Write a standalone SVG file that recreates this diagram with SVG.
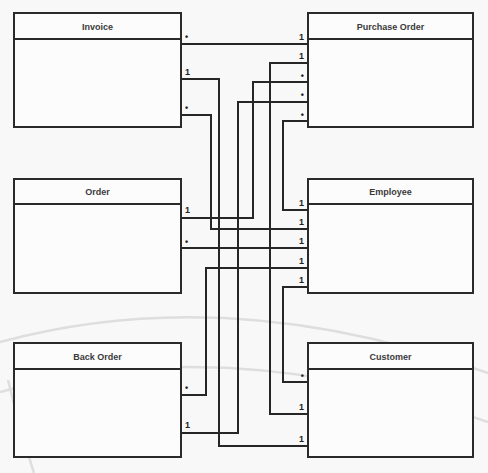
<svg xmlns="http://www.w3.org/2000/svg" width="488" height="473" viewBox="0 0 488 473">
<style>
.bg{fill:#f8f8f8}
.arc{fill:none;stroke:#dedede;stroke-width:2.5}
.box{fill:#fcfcfc;stroke:#2a2a2a;stroke-width:2}
.hdr{stroke:#2a2a2a;stroke-width:2}
.title{font-family:"Liberation Sans",Arial,sans-serif;font-size:9px;font-weight:bold;fill:#3a3a3a;text-anchor:middle}
.conn{fill:none;stroke:#262626;stroke-width:2}
.lbl{font-family:"Liberation Sans",Arial,sans-serif;font-size:9px;font-weight:bold;fill:#222}
.r{text-anchor:end}
</style>
<rect class="bg" x="0" y="0" width="488" height="473"/>
<g id="background-arcs">
<path class="arc" d="M0,342 Q230,280 488,373"/>
<path class="arc" d="M0,392 Q230,330 488,422"/>
<path class="arc" d="M8,380 Q20,430 34,473"/>
</g>
<g id="connectors">
<path class="conn" d="M181,44 H308"/>
<path class="conn" d="M181,79 H219 V446 H308"/>
<path class="conn" d="M181,115 H211 V229 H308"/>
<path class="conn" d="M308,63 H270 V414 H308"/>
<path class="conn" d="M308,82 H253 V218 H181"/>
<path class="conn" d="M308,102 H238 V433 H181"/>
<path class="conn" d="M308,121 H283 V210 H308"/>
<path class="conn" d="M181,248 H308"/>
<path class="conn" d="M181,395 H206 V268 H308"/>
<path class="conn" d="M308,287 H283 V382 H308"/>
</g>
<g id="invoice">
<rect class="box" x="14" y="13" width="167" height="114"/>
<line class="hdr" x1="14" y1="39" x2="181" y2="39"/>
<text class="title" x="97.5" y="29.5">Invoice</text>
<text class="lbl" x="185" y="40">•</text>
<text class="lbl" x="185" y="75">1</text>
<text class="lbl" x="185" y="111">•</text>
</g>
<g id="purchase-order">
<rect class="box" x="308" y="13" width="165" height="114"/>
<line class="hdr" x1="308" y1="39" x2="473" y2="39"/>
<text class="title" x="390.5" y="29.5">Purchase Order</text>
<text class="lbl r" x="304" y="40">1</text>
<text class="lbl r" x="304" y="59">1</text>
<text class="lbl r" x="304" y="79">•</text>
<text class="lbl r" x="304" y="98">•</text>
<text class="lbl r" x="304" y="118">•</text>
</g>
<g id="order">
<rect class="box" x="14" y="179" width="167" height="114"/>
<line class="hdr" x1="14" y1="204" x2="181" y2="204"/>
<text class="title" x="97.5" y="195">Order</text>
<text class="lbl" x="185" y="213">1</text>
<text class="lbl" x="185" y="245">•</text>
</g>
<g id="employee">
<rect class="box" x="308" y="179" width="165" height="114"/>
<line class="hdr" x1="308" y1="204" x2="473" y2="204"/>
<text class="title" x="390.5" y="195">Employee</text>
<text class="lbl r" x="304" y="206">1</text>
<text class="lbl r" x="304" y="225">1</text>
<text class="lbl r" x="304" y="244">1</text>
<text class="lbl r" x="304" y="264">1</text>
<text class="lbl r" x="304" y="283">1</text>
</g>
<g id="back-order">
<rect class="box" x="14" y="343" width="167" height="114"/>
<line class="hdr" x1="14" y1="369" x2="181" y2="369"/>
<text class="title" x="97.5" y="359.5">Back Order</text>
<text class="lbl" x="185" y="391">•</text>
<text class="lbl" x="185" y="428">1</text>
</g>
<g id="customer">
<rect class="box" x="308" y="343" width="165" height="114"/>
<line class="hdr" x1="308" y1="369" x2="473" y2="369"/>
<text class="title" x="390.5" y="359.5">Customer</text>
<text class="lbl r" x="304" y="379">•</text>
<text class="lbl r" x="304" y="410">1</text>
<text class="lbl r" x="304" y="442">1</text>
</g>
</svg>
